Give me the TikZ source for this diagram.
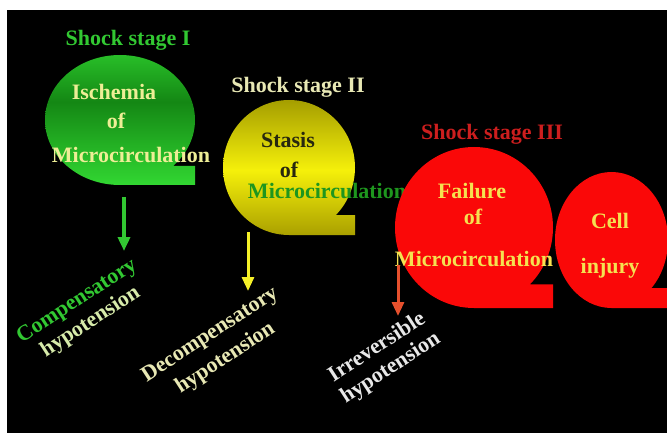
\documentclass[tikz,border=0pt]{standalone}
\usepackage{fontspec}
\setmainfont{Liberation Serif}
\usetikzlibrary{arrows.meta}
\definecolor{gTop}{RGB}{40,190,40}
\definecolor{gMid}{RGB}{20,135,20}
\definecolor{gBot}{RGB}{50,215,50}
\definecolor{yTop}{RGB}{165,158,0}
\definecolor{yMid}{RGB}{245,240,10}
\definecolor{yBot}{RGB}{170,160,0}
\definecolor{qred}{RGB}{250,8,8}
\definecolor{sgreen}{RGB}{50,200,50}
\definecolor{paleY}{RGB}{238,238,150}
\definecolor{paleW}{RGB}{232,232,180}
\definecolor{darkT}{RGB}{40,40,15}
\definecolor{midG}{RGB}{30,150,30}
\definecolor{sred}{RGB}{205,30,30}
\definecolor{redT}{RGB}{245,225,80}
\definecolor{paleG}{RGB}{215,235,170}
\definecolor{greyW}{RGB}{232,232,232}
\definecolor{arrR}{RGB}{230,80,45}
\definecolor{arrY}{RGB}{245,240,40}
\pgfdeclareverticalshading{greenQ}{100bp}{color(0bp)=(gBot); color(25bp)=(gBot); color(57bp)=(gMid); color(75bp)=(gTop); color(100bp)=(gTop)}
\pgfdeclareverticalshading{yellowQ}{100bp}{color(0bp)=(yBot); color(25bp)=(yBot); color(49bp)=(yMid); color(75bp)=(yTop); color(100bp)=(yTop)}
\newcommand\tapeQ[5]{%
  \path[#5] (#1,#2+#4) arc[start angle=90,end angle=405,x radius=#3,y radius=#4]
    -- (#1+#3,#2+0.7071*#4) -- (#1+#3,#2+#4) -- cycle;}
\begin{document}
\begin{tikzpicture}[x=1pt,y=-1pt,
  txt/.style={font=\fontsize{22}{24}\selectfont\bfseries, inner sep=0pt, anchor=base},
  rtxt/.style={font=\fontsize{22}{25}\selectfont\bfseries, inner sep=0pt, align=center, rotate=33},
  arr/.style={line width=3.5pt, -{Triangle[width=12pt,length=14pt]}}]
\useasboundingbox (0,0) rectangle (667,433);
\fill[white] (0,0) rectangle (667,433);
\fill[black] (7,10) rectangle (667,433);
% stage I
\tapeQ{120}{120}{75}{65}{shade, shading=greenQ}
\node[txt, text=sgreen] (s1) at (128,46) {Shock stage I};
\node[txt, text=paleY] (i1) at (114,100) {Ischemia};
\node[txt, text=paleY] (o1) at (116,129) {of};
\node[txt, text=paleY] (m1) at (131,163) {Microcirculation};
% stage II
\tapeQ{289}{167.5}{66}{67.5}{shade, shading=yellowQ}
\node[txt, text=paleW] (s2) at (298,93) {Shock stage II};
\node[txt, text=darkT] (i2) at (288,148) {Stasis};
\node[txt, text=darkT] (o2) at (289,178) {of};
\node[txt, text=midG] (m2) at (327,199) {Microcirculation};
% stage III
\tapeQ{474}{227.5}{79}{80.5}{fill=qred}
\tapeQ{611.5}{240}{56.5}{68}{fill=qred}
\node[txt, text=sred] (s3) at (492,140) {Shock stage III};
\node[txt, text=redT] (i3) at (472,199) {Failure};
\node[txt, text=redT] (o3) at (473,224) {of};
\node[txt, text=redT] (m3) at (474,266) {Microcirculation};
\node[txt, text=redT] (c1) at (610,229) {Cell};
\node[txt, text=redT] (c2) at (610,273) {injury};
% outcomes
\node[rtxt] (h1) at (84,312) {\textcolor{sgreen}{Compensatory}\\\textcolor{paleG}{hypotension}};
\node[rtxt, text=paleW, font=\fontsize{22}{28}\selectfont\bfseries] (h2) at (218,347) {Decompensatory\\hypotension};
\node[rtxt, text=greyW] (h3) at (384,358) {Irreversible\\hypotension};
% arrows
\coordinate (a1s) at (124,197); \coordinate (a1e) at (124,251);
\coordinate (a2s) at (248,232); \coordinate (a2e) at (248,291);
\coordinate (a3s) at (398,265); \coordinate (a3e) at (398,316);
\draw[arr, draw=sgreen] (a1s) -- (a1e);
\draw[arr, draw=arrY, line width=3pt] (a2s) -- (a2e);
\draw[arr, draw=arrR, line width=3pt] (a3s) -- (a3e);
\end{tikzpicture}
\end{document}
